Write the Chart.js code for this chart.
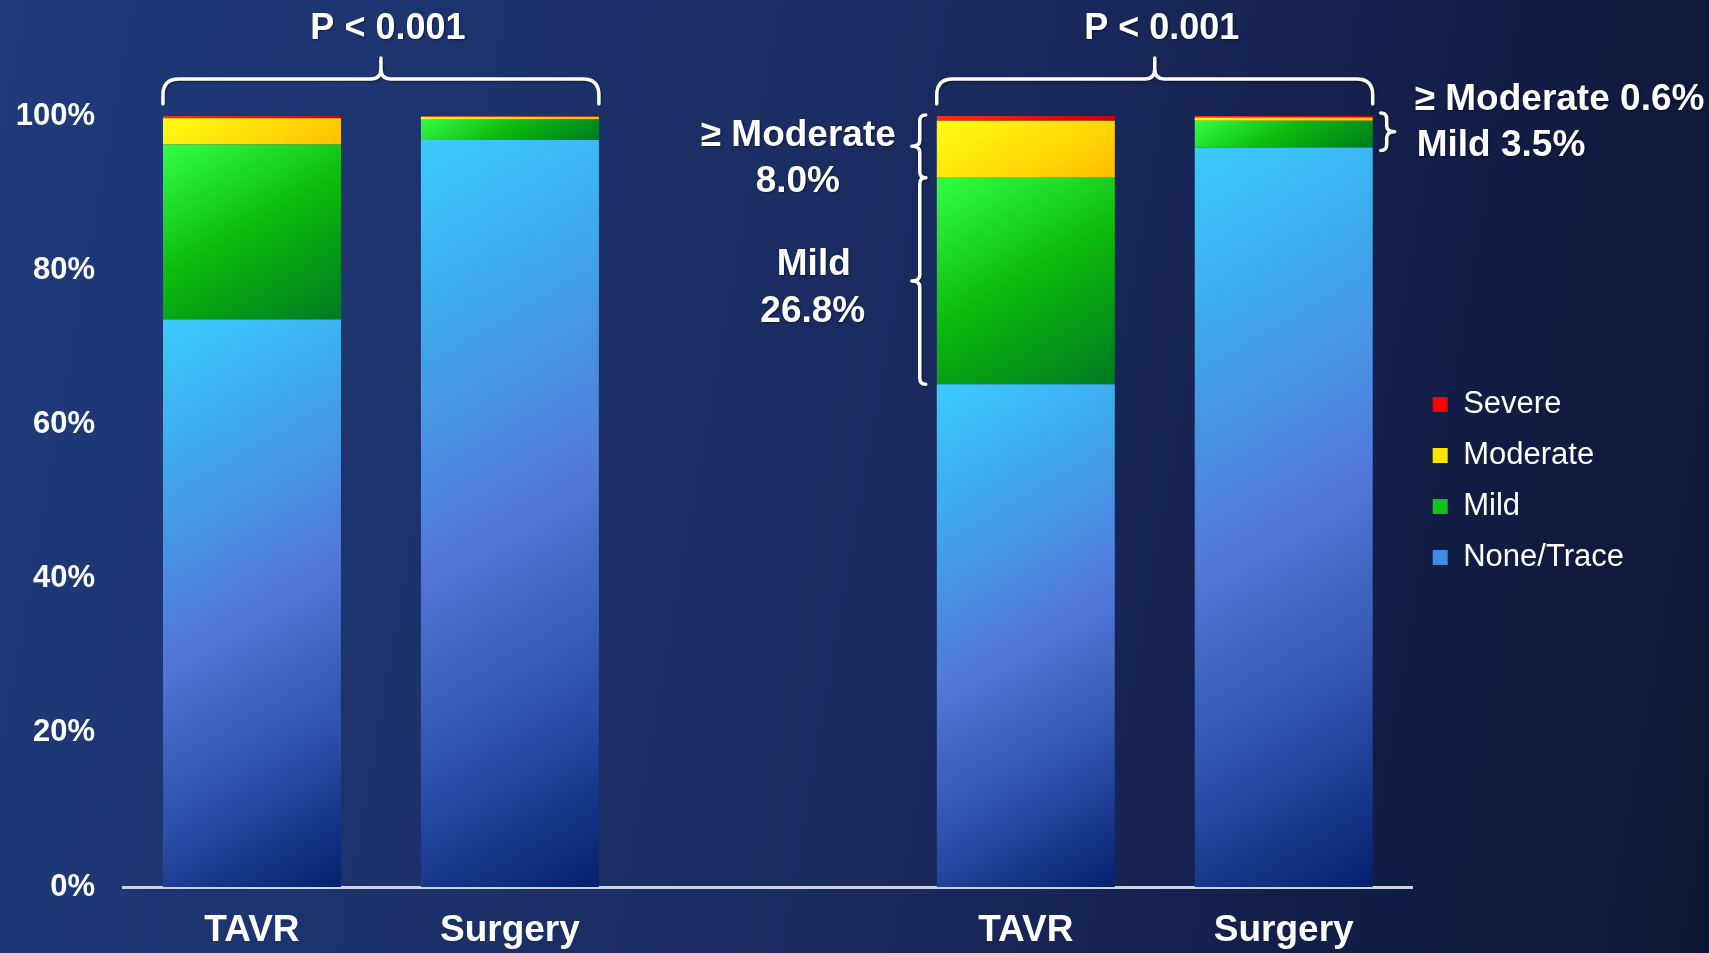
<!DOCTYPE html>
<html>
<head>
<meta charset="utf-8">
<script src="https://cdn.jsdelivr.net/npm/chart.js@4.4.1/dist/chart.umd.min.js"></script>
<style>
  html, body { margin: 0; padding: 0; }
  body {
    width: 1709px; height: 953px; overflow: hidden;
    background: linear-gradient(100deg, #1F3B7C 0%, #1C3169 32%, #19285C 58%, #121D45 82%, #0D1633 100%);
  }
  canvas { display: block; }
</style>
</head>
<body>
<canvas id="c" width="1709" height="953"></canvas>
<script>
// ---- data ----
const categories = ['TAVR', 'Surgery', '', 'TAVR', 'Surgery'];
const noneTrace  = [73.6, 96.9, null, 65.2, 95.9];
const mild       = [22.7, 2.7,  null, 26.8, 3.5];
const moderate   = [3.4,  0.3,  null, 7.4,  0.4];
const severe     = [0.3,  0.1,  null, 0.6,  0.2];
const seriesNames = ['None/Trace', 'Mild', 'Moderate', 'Severe'];
const yTicks = [0, 20, 40, 60, 80, 100];
const pValues = ['P < 0.001', 'P < 0.001'];
const groups = [[0, 1], [3, 4]];
const leftNotes = ['\u2265 Moderate', '8.0%', 'Mild', '26.8%'];
const rightNotes = ['\u2265 Moderate 0.6%', 'Mild 3.5%'];

const seriesValues = [noneTrace, mild, moderate, severe];
const BAR_PCT = 0.69;
const FONT = '"Liberation Sans", Arial, sans-serif';

const gradStops = [
  [[0, '#3BCBFB'], [0.2, '#3DACEF'], [0.5, '#5279D9'], [0.75, '#2F52AE'], [1, '#03206C']],
  [[0, '#33FF44'], [0.5, '#0BB80C'], [1, '#007A22']],
  [[0, '#FFFF10'], [1, '#FFBE00']],
  [[0, '#FF3010'], [1, '#C80000']]
];
const legendColors = ['#3F8CE2', '#12C21A', '#FFE400', '#FF0000'];

function cum(i, k) {
  let s = 0;
  for (let j = 0; j < k; j++) s += (seriesValues[j][i] || 0);
  return s;
}

function barGradient(k) {
  return function (c) {
    const chart = c.chart;
    if (c.type !== 'data' || !chart.chartArea || !chart.scales.x || !chart.scales.y) return legendColors[k];
    const x = chart.scales.x, y = chart.scales.y;
    const i = c.dataIndex;
    const slot = x.getPixelForValue(1) - x.getPixelForValue(0);
    const bw = slot * BAR_PCT;
    const L = x.getPixelForValue(i) - bw / 2;
    const T = y.getPixelForValue(cum(i, k + 1));
    const B = y.getPixelForValue(cum(i, k));
    const w = bw, h = Math.max(1, B - T);
    const dx = 0.5, dy = 0.866;
    const len = w * dx + h * dy;
    const g = chart.ctx.createLinearGradient(L, T, L + len * dx, T + len * dy);
    gradStops[k].forEach(s => g.addColorStop(s[0], s[1]));
    return g;
  };
}

const datasets = seriesValues.map((vals, k) => ({
  label: seriesNames[k],
  data: vals,
  backgroundColor: barGradient(k),
  borderWidth: 0,
  barPercentage: BAR_PCT,
  categoryPercentage: 1
}));

function hBrace(ctx, x1, x2, yEnd, yLine, yTip) {
  const xm = (x1 + x2) / 2, r = 16, r2 = 10;
  ctx.beginPath();
  ctx.moveTo(x1, yEnd);
  ctx.lineTo(x1, yLine + r);
  ctx.quadraticCurveTo(x1, yLine, x1 + r, yLine);
  ctx.lineTo(xm - r2, yLine);
  ctx.quadraticCurveTo(xm, yLine, xm, yLine - r2);
  ctx.lineTo(xm, yTip);
  ctx.moveTo(x2, yEnd);
  ctx.lineTo(x2, yLine + r);
  ctx.quadraticCurveTo(x2, yLine, x2 - r, yLine);
  ctx.lineTo(xm + r2, yLine);
  ctx.quadraticCurveTo(xm, yLine, xm, yLine - r2);
  ctx.stroke();
}

// dir = -1 : "{" (tip to left), dir = +1 : "}" (tip to right)
function vBrace(ctx, xLine, y1, y2, dir) {
  const ym = (y1 + y2) / 2, c = Math.min(6, (y2 - y1) / 4), tip = 8;
  ctx.beginPath();
  ctx.moveTo(xLine - dir * c, y1);
  ctx.quadraticCurveTo(xLine, y1, xLine, y1 + c);
  ctx.lineTo(xLine, ym - c);
  ctx.quadraticCurveTo(xLine, ym, xLine + dir * tip, ym);
  ctx.quadraticCurveTo(xLine, ym, xLine, ym + c);
  ctx.lineTo(xLine, y2 - c);
  ctx.quadraticCurveTo(xLine, y2, xLine - dir * c, y2);
  ctx.stroke();
}

const annotations = {
  id: 'annotations',
  afterDraw(chart) {
    const { ctx } = chart;
    const x = chart.scales.x, y = chart.scales.y;
    const slot = x.getPixelForValue(1) - x.getPixelForValue(0);
    const bw = slot * BAR_PCT;
    const left = i => x.getPixelForValue(i) - bw / 2;
    const right = i => x.getPixelForValue(i) + bw / 2;
    const yTop = y.getPixelForValue(100);

    ctx.save();
    ctx.strokeStyle = '#FFFFFF';
    ctx.lineWidth = 3.5;
    ctx.lineCap = 'round';
    ctx.lineJoin = 'round';
    ctx.shadowColor = 'rgba(0,0,0,0.45)';
    ctx.shadowBlur = 2;
    ctx.shadowOffsetX = 1;
    ctx.shadowOffsetY = 1;

    ctx.fillStyle = '#FFFFFF';
    ctx.textBaseline = 'middle';

    ctx.font = 'bold 36px ' + FONT;
    groups.forEach((g, n) => {
      const x1 = left(g[0]), x2 = right(g[1]);
      hBrace(ctx, x1, x2, yTop - 12, yTop - 37, yTop - 58);
      ctx.textAlign = 'center';
      ctx.fillText(pValues[n], (x1 + x2) / 2 + 7, yTop - 87);
    });

    ctx.font = 'bold 37px ' + FONT;
    // left braces on right-group TAVR bar
    const i3 = groups[1][0];
    const yModBot = y.getPixelForValue(cum(i3, 2));
    const yMildBot = y.getPixelForValue(cum(i3, 1));
    const xL = left(i3) - 17;
    vBrace(ctx, xL, yTop - 1, yModBot, -1);
    vBrace(ctx, xL, yModBot, yMildBot, -1);
    const modMid = (yTop + yModBot) / 2, mildMid = (yModBot + yMildBot) / 2;
    ctx.textAlign = 'right';
    ctx.fillText(leftNotes[0], left(i3) - 41, modMid - 11);
    ctx.textAlign = 'center';
    ctx.fillText(leftNotes[1], left(i3) - 139, modMid + 35);
    ctx.fillText(leftNotes[2], left(i3) - 123, mildMid - 16);
    ctx.fillText(leftNotes[3], left(i3) - 124, mildMid + 31);

    // right brace on right-group Surgery bar
    const i4 = groups[1][1];
    const yNoneTop = y.getPixelForValue(cum(i4, 1));
    const xR = right(i4) + 14;
    vBrace(ctx, xR, yTop - 3, yNoneTop + 3, 1);
    ctx.textAlign = 'left';
    ctx.fillText(rightNotes[0], right(i4) + 42, yTop - 16);
    ctx.fillText(rightNotes[1], right(i4) + 44, yTop + 30);
    ctx.restore();
  }
};

new Chart(document.getElementById('c'), {
  type: 'bar',
  data: { labels: categories, datasets },
  options: {
    responsive: false,
    devicePixelRatio: 1,
    animation: false,
    layout: { padding: { top: 116, right: 75, bottom: 0, left: 0 } },
    plugins: {
      tooltip: { enabled: false },
      legend: {
        position: 'right',
        align: 'center',
        fullSize: false,
        title: { display: true, text: '', font: { size: 1 }, padding: { top: 4, bottom: 5 } },
        labels: {
          boxWidth: 15,
          boxHeight: 15,
          padding: 20,
          color: '#FFFFFF',
          font: { family: FONT, size: 31 },
          generateLabels: () => {
            const items = [3, 2, 1, 0].map(k => ({
              text: seriesNames[k],
              fillStyle: legendColors[k],
              strokeStyle: legendColors[k],
              lineWidth: 0,
              fontColor: '#FFFFFF',
              hidden: false,
              datasetIndex: k
            }));
            items.push({ text: '', fillStyle: 'rgba(0,0,0,0)', strokeStyle: 'rgba(0,0,0,0)', lineWidth: 0, fontColor: 'rgba(0,0,0,0)', hidden: false, datasetIndex: -1 });
            return items;
          }
        },
        onClick: () => {}
      }
    },
    scales: {
      x: {
        stacked: true,
        afterFit: s => { s.height = 66; },
        grid: { display: false, drawTicks: false },
        border: { display: true, color: '#C9D1E4', width: 3 },
        ticks: {
          color: '#FFFFFF', autoSkip: false, maxRotation: 0, padding: 22,
          font: { family: FONT, size: 37, weight: 'bold' }
        }
      },
      y: {
        stacked: true,
        min: 0, max: 100,
        afterFit: s => { s.width = 123; },
        afterBuildTicks: s => { s.ticks = yTicks.map(v => ({ value: v })); },
        grid: { display: false, drawTicks: false },
        border: { display: false },
        ticks: {
          color: '#FFFFFF', padding: 28,
          font: { family: FONT, size: 31, weight: 'bold' },
          callback: v => v + '%'
        }
      }
    }
  },
  plugins: [annotations]
});
</script>
</body>
</html>
